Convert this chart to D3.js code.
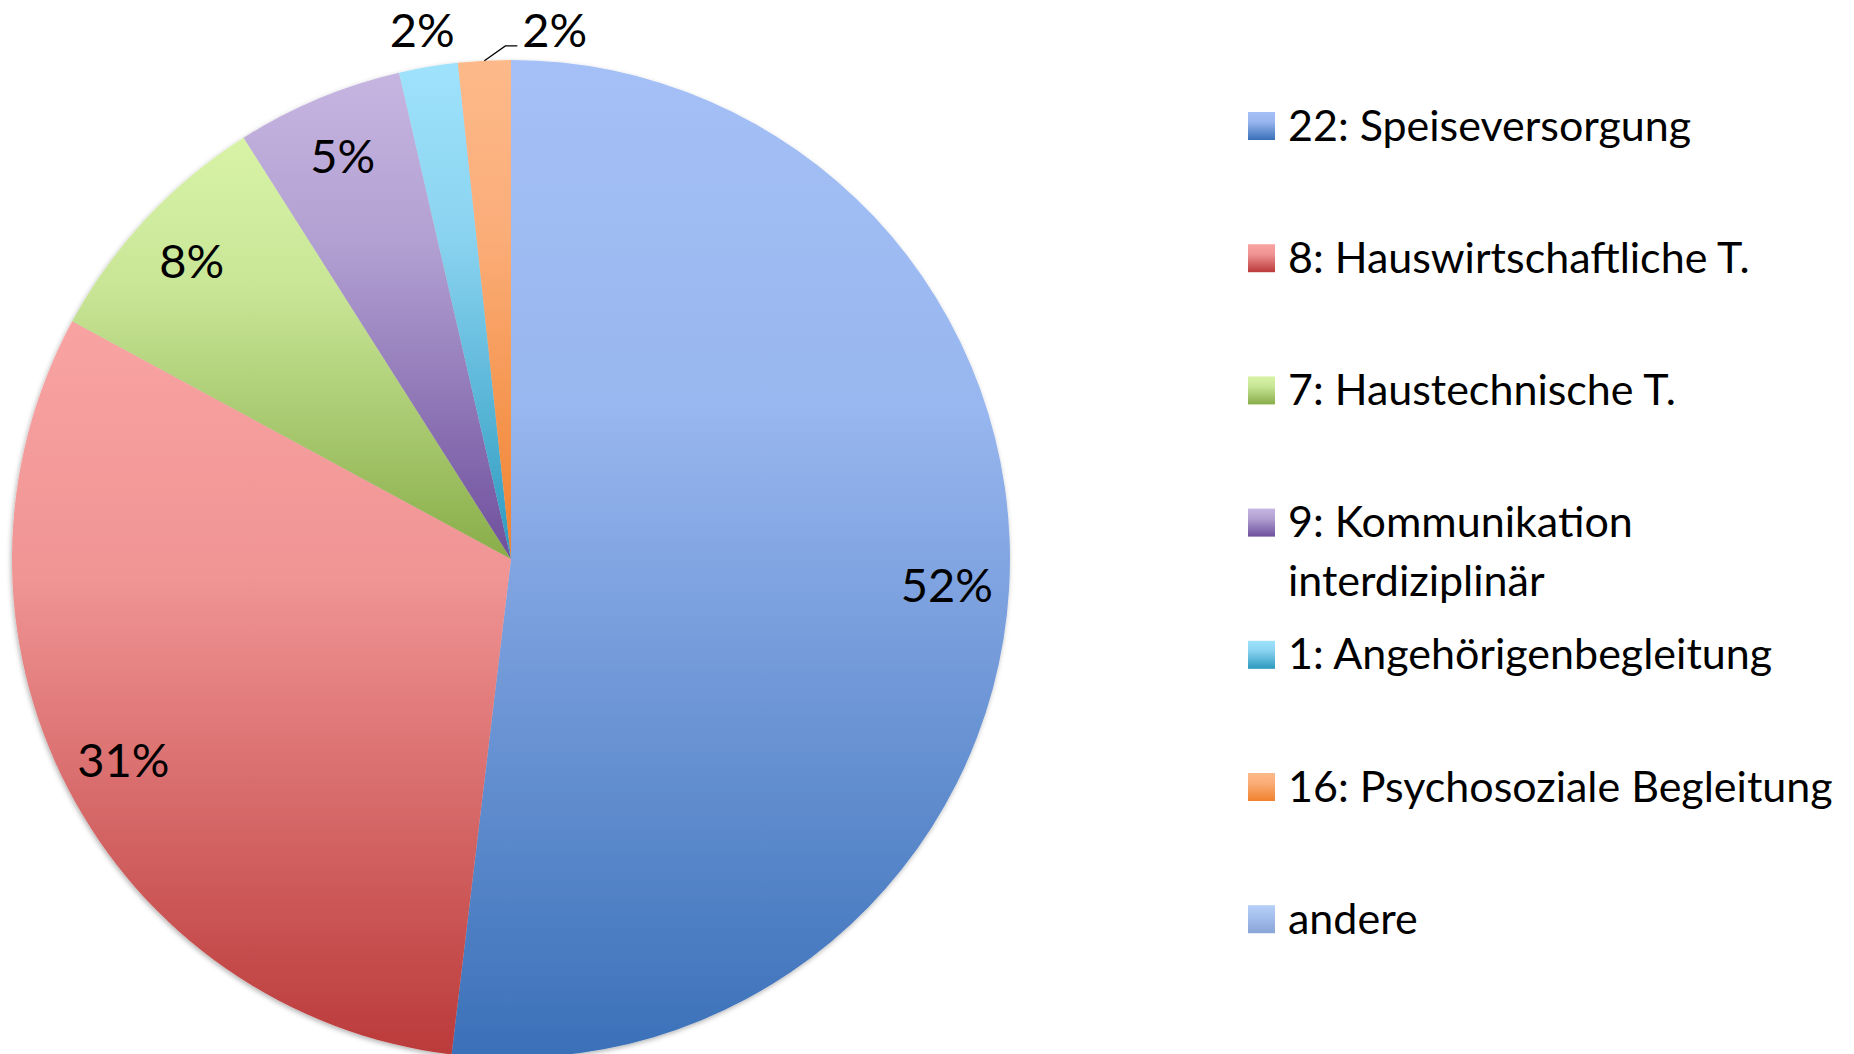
<!DOCTYPE html>
<html lang="de">
<head>
    <meta charset="UTF-8">
    <title>Pie chart</title>
    <script src="https://cdn.jsdelivr.net/npm/d3@7"></script>
    <style>
        body { margin: 0; background: #fff; }
        text { font-family: Lato, "Open Sans", sans-serif; fill: #000; }
    </style>
</head>
<body>
    <script>
        // data
        var categories = ['22: Speiseversorgung', '8: Hauswirtschaftliche T.', '7: Haustechnische T.',
                          '9: Kommunikation interdiziplinär', '1: Angehörigenbegleitung',
                          '16: Psychosoziale Begleitung', 'andere'];
        var values = [51.9, 31.0, 8.1, 5.4, 1.9, 1.7, 0];
        // gradient colours (top, middle, bottom) per category
        var colorsTop = ['#a4c0f6', '#f8a3a2', '#d8f3a6', '#c6b4e1', '#9fe2fc', '#fdb98a', '#b6cff8'];
        var colorsMid = ['#98b6ef', '#f09494', '#c9e697', '#b2a0d2', '#8ad3f0', '#fbad78', '#a8c2f0'];
        var colorsBot = ['#3a70b8', '#bb3a3a', '#89ad49', '#6e4f9c', '#2c9abf', '#f0822e', '#88a5d6'];

        var w = 1854;
        var h = 1054;
        var cx = 511, cy = 559, r = 499;
        var labelSize = 47;
        var legendSize = 43;

        var svg = d3.select('body')
                    .append('svg')
                    .attr('width', w)
                    .attr('height', h);

        var defs = svg.append('defs');

        //gradients, one per category
        categories.forEach(function(c, i) {
            var g = defs.append('linearGradient')
                        .attr('id', 'grad' + i)
                        .attr('x1', 0).attr('y1', 0)
                        .attr('x2', 0).attr('y2', 1);
            g.append('stop').attr('offset', '0%').attr('stop-color', colorsTop[i]);
            g.append('stop').attr('offset', '35%').attr('stop-color', colorsMid[i]);
            g.append('stop').attr('offset', '100%').attr('stop-color', colorsBot[i]);
        });

        //soft shadow under the pie
        var shadow = defs.append('filter')
                        .attr('id', 'shadow')
                        .attr('x', '-5%').attr('y', '-5%')
                        .attr('width', '110%').attr('height', '110%');
        shadow.append('feDropShadow')
            .attr('dx', -1).attr('dy', 2)
            .attr('stdDeviation', 2.5)
            .attr('flood-color', '#000')
            .attr('flood-opacity', 0.3);

        var pie = d3.pie().sort(null).value(function(d) { return d; });
        var arcs = pie(values);

        var arc = d3.arc().innerRadius(0).outerRadius(r);

        var pieG = svg.append('g')
                    .attr('transform', 'translate(' + cx + ',' + cy + ')');

        pieG.append('g')
            .attr('filter', 'url(#shadow)')
            .selectAll('path')
            .data(arcs.filter(function(d) { return d.value > 0; }))
            .enter()
            .append('path')
            .attr('d', arc)
            .attr('fill', function(d) { return 'url(#grad' + d.index + ')'; });

        //labels
        var fmt = function(v) { return Math.round(v) + '%'; };
        var insideArc = d3.arc().innerRadius(r * 0.875).outerRadius(r * 0.875);
        var outsideArc = d3.arc().innerRadius(r * 1.075).outerRadius(r * 1.075);
        var rimArc = d3.arc().innerRadius(r).outerRadius(r);
        var digitOffset = labelSize * 0.36;
        var lastRight = -Infinity, lastBase = 0;

        arcs.forEach(function(d) {
            if (d.value <= 0) return;
            var txt = pieG.append('text')
                        .attr('font-size', labelSize + 'px')
                        .text(fmt(d.value));
            if (d.value >= 3) {
                var p = insideArc.centroid(d);
                txt.attr('text-anchor', 'middle')
                    .attr('x', p[0])
                    .attr('y', p[1] + digitOffset);
                return;
            }
            var q = outsideArc.centroid(d);
            var tw = txt.node().getComputedTextLength();
            var left = q[0] - tw / 2;
            var base = q[1] + digitOffset;
            if (left < lastRight + 4) {
                //collides with previous label, push right on the same line and add leader line
                var rim = rimArc.centroid(d);
                left = rim[0] + 38;
                base = lastBase;
                pieG.append('path')
                    .attr('d', d3.line()([[rim[0], rim[1]], [rim[0] + 21, base - 1], [left - 5, base - 1]]))
                    .attr('fill', 'none')
                    .attr('stroke', '#000')
                    .attr('stroke-width', 1.3);
            }
            txt.attr('x', left).attr('y', base);
            lastRight = left + tw;
            lastBase = base;
        });

        //legend
        var legX = 1248, legY0 = 125.5, legStep = 132.2, box = 27, textX = 1288;
        var maxW = w - textX - 4, lineH = 59;
        var legend = svg.append('g');

        categories.forEach(function(c, i) {
            var y = legY0 + i * legStep;
            legend.append('rect')
                .attr('x', legX)
                .attr('y', y - box / 2)
                .attr('width', box)
                .attr('height', box + 1)
                .attr('fill', 'url(#grad' + i + ')');
            var t = legend.append('text')
                        .attr('font-size', legendSize + 'px')
                        .attr('x', textX)
                        .attr('y', y + legendSize * 0.35);
            //word wrap
            var words = c.split(' ');
            var line = [];
            var tspan = t.append('tspan').attr('x', textX);
            words.forEach(function(wd) {
                line.push(wd);
                tspan.text(line.join(' '));
                if (tspan.node().getComputedTextLength() > maxW && line.length > 1) {
                    line.pop();
                    tspan.text(line.join(' '));
                    line = [wd];
                    tspan = t.append('tspan')
                            .attr('x', textX)
                            .attr('dy', lineH)
                            .text(wd);
                }
            });
        });
    </script>
</body>
</html>
